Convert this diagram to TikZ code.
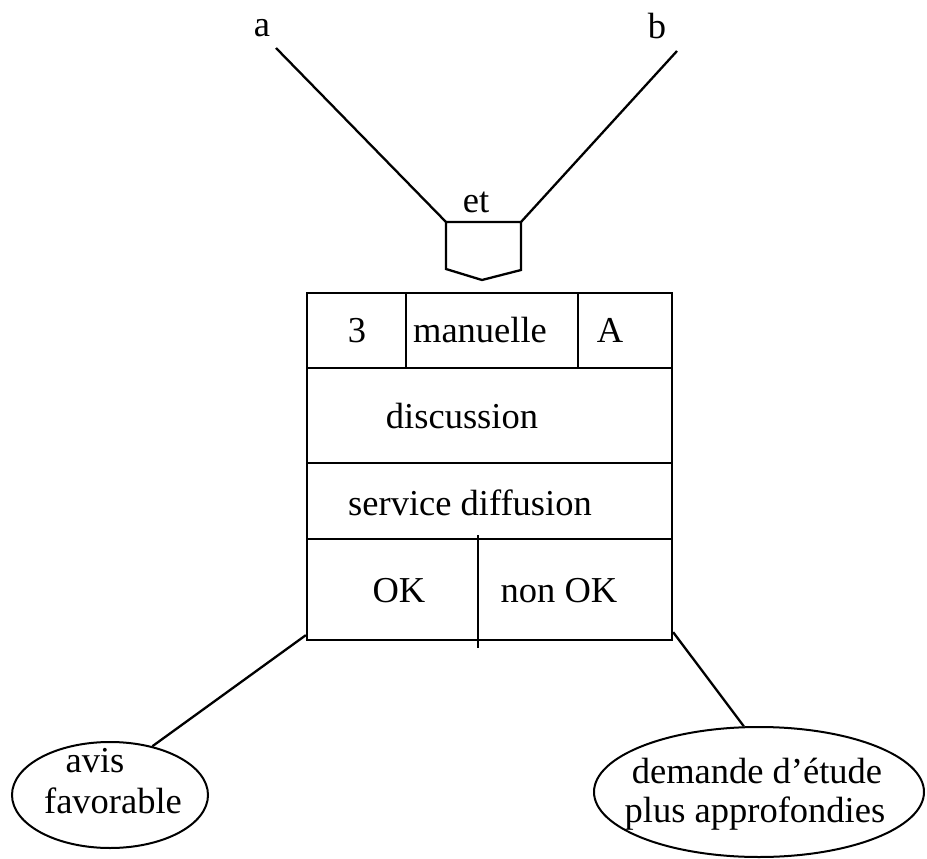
\documentclass[tikz,border=0pt]{standalone}
\usepackage{fontspec}
\setmainfont{Liberation Serif}
\usetikzlibrary{shapes.geometric}
\begin{document}
\begin{tikzpicture}[x=1pt,y=-1pt,
  every node/.style={font=\fontsize{36.5}{40}\selectfont, inner sep=0pt},
  txt/.style={anchor=base},
  ln/.style={line width=2.3pt, line join=miter},
  oval/.style={draw, ellipse, line width=2pt, inner sep=0pt}]
\useasboundingbox (0,0) rectangle (927,859);
% inputs
\node[txt] (la) at (262,37) {a};
\node[txt] (lb) at (657,39) {b};
\coordinate (a0) at (276,48);
\coordinate (b0) at (677,51);
% gate
\coordinate (g1) at (446,222);
\coordinate (g2) at (521,222);
\coordinate (g3) at (521,270);
\coordinate (g4) at (482,280);
\coordinate (g5) at (446,269);
\draw[ln] (g1) -- (g2) -- (g3) -- (g4) -- (g5) -- cycle;
\node[txt] (et) at (476,212) {et};
\draw[ln] (a0) -- (g1);
\draw[ln] (b0) -- (g2);
% main box
\node[draw, ln, minimum width=365pt, minimum height=347pt] (box) at (489.5,466.5) {};
\draw[ln] (307,368) -- (672,368);
\draw[ln] (406,293) -- (406,368);
\draw[ln] (578,293) -- (578,368);
\draw[ln] (307,463) -- (672,463);
\draw[ln] (307,539) -- (672,539);
\draw[ln] (478,535) -- (478,648);
\node[txt] (t3) at (357,342) {3};
\node[txt] (tman) at (480,342) {manuelle};
\node[txt] (tA) at (610,342) {A};
\node[txt] (tdisc) at (462,428) {discussion};
\node[txt] (tserv) at (470,515) {service diffusion};
\node[txt] (tok) at (399,602) {OK};
\node[txt] (tnok) at (559,602) {non OK};
% outcomes
\node[oval, minimum width=196pt, minimum height=106pt] (fav) at (110,795) {};
\node[oval, minimum width=330pt, minimum height=130pt] (dem) at (759,792) {};
\node[txt] (tavis) at (95,772) {avis};
\node[txt] (tfav) at (113,813) {favorable};
\node[txt] (tdem) at (757,783) {demande d’étude};
\node[txt] (tplus) at (755,822) {plus approfondies};
\draw[ln] ([yshift=6pt]box.south west) -- (fav.49);
\draw[ln] ([yshift=9pt]box.south east) -- (dem.103);
\end{tikzpicture}
\end{document}
